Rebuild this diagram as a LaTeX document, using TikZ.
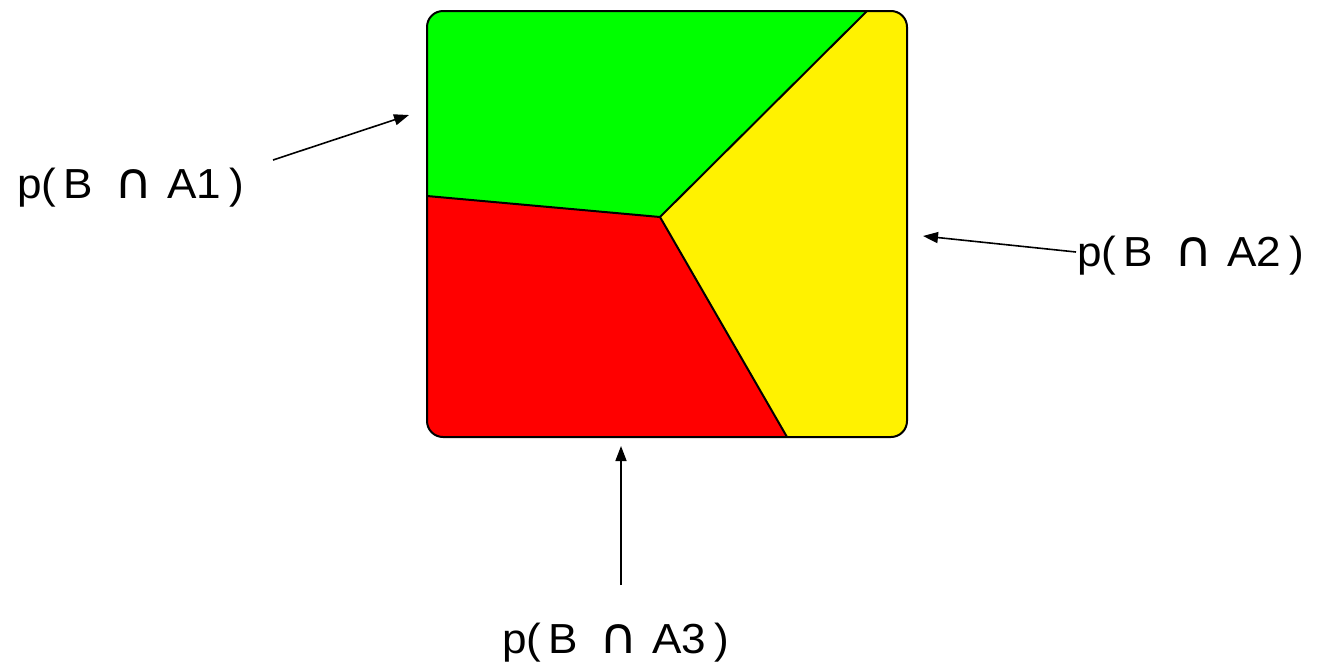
\documentclass[tikz,border=0pt]{standalone}
\usepackage{fontspec}
\setmainfont{Liberation Sans}
\newfontfamily\symfont{DejaVu Sans}
\usetikzlibrary{arrows.meta}
\newcommand{\capsym}{{\symfont\fontsize{50}{58}\selectfont ∩}}
\newcommand{\piece}[1]{\makebox[0pt][l]{#1}}
\newcommand{\lbltext}[1]{\scalebox{1.05}[1]{\makebox[216pt][l]{%
  \piece{p(}\hspace{44.2pt}\piece{B}\hspace{48.4pt}\piece{\capsym}\hspace{50.3pt}\piece{A#1}\hspace{59pt}\piece{)}}}}
\begin{document}
\begin{tikzpicture}[x=1pt,y=-1pt,
  lbl/.style={font=\fontsize{42}{50}\selectfont, inner sep=0pt, anchor=base west},
  arr/.style={-{Triangle[length=15pt,width=11pt]}, line width=1.6pt},
  edge/.style={draw=black, line width=2pt, line join=round}]
\useasboundingbox (0,0) rectangle (1317,670);
% square regions
\coordinate (tlc) at (427,11);
\coordinate (brc) at (907,437);
\coordinate (top) at (867,11);
\coordinate (mid) at (660,217);
\coordinate (lft) at (427,196);
\coordinate (bot) at (787,437);
\begin{scope}
  \clip[rounded corners=16pt] (tlc) rectangle (brc);
  \fill[green] (400,0) -- (top) -- (mid) -- (lft) -- (400,196) -- cycle;
  \fill[yellow] (top) -- (920,0) -- (920,450) -- (bot) -- (mid) -- cycle;
  \fill[red] (400,196) -- (lft) -- (mid) -- (bot) -- (400,450) -- cycle;
\end{scope}
\draw[edge] (top) -- (mid) -- (bot);
\draw[edge] (lft) -- (mid);
\draw[edge, rounded corners=16pt] (tlc) rectangle (brc);
% labels
\node[lbl] (l1) at (17,198) {\lbltext{1}};
\node[lbl] (l2) at (1077,266) {\lbltext{2}};
\node[lbl] (l3) at (502,653) {\lbltext{3}};
% arrows
\coordinate (t1) at (273,160);
\coordinate (h1) at (409,115);
\coordinate (t2) at (1076,252);
\coordinate (h2) at (923,236);
\coordinate (t3) at (621,585);
\coordinate (h3) at (621,446);
\draw[arr] (t1) -- (h1);
\draw[arr] (t2) -- (h2);
\draw[arr] (t3) -- (h3);
\end{tikzpicture}
\end{document}
